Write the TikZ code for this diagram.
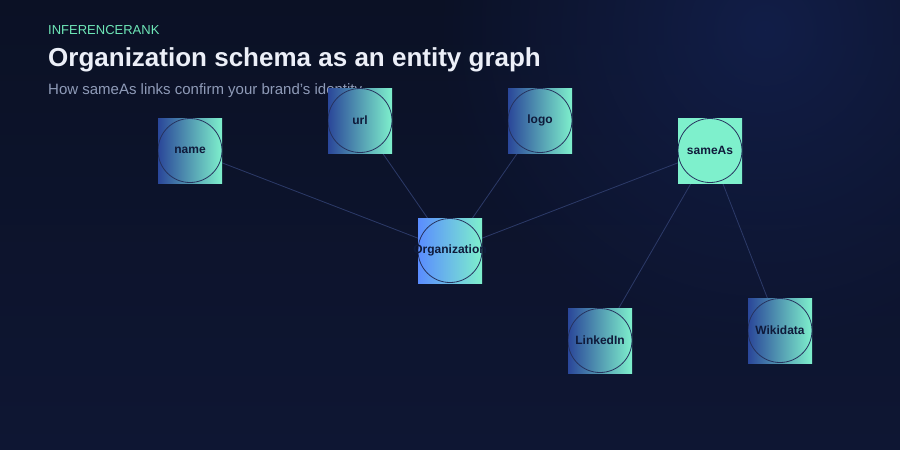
\documentclass[tikz,border=0pt]{standalone}
\usepackage{fontspec}
\setmainfont{Liberation Sans}
\usetikzlibrary{positioning,backgrounds,fadings}

\definecolor{bgtop}{HTML}{0B1125}
\definecolor{bgbottom}{HTML}{0E1633}
\definecolor{glow}{HTML}{121E48}
\definecolor{mint}{HTML}{7EF0CC}
\definecolor{deepblue}{HTML}{2A4699}
\definecolor{skyblue}{HTML}{5A8CFF}
\definecolor{ring}{HTML}{26335F}
\definecolor{edgecol}{HTML}{2C3A68}
\definecolor{labelcol}{HTML}{0F1A3A}
\definecolor{brandcol}{HTML}{6EE7B7}
\definecolor{titlecol}{HTML}{ECEFF8}
\definecolor{subcol}{HTML}{8F9BB8}

\tikzfading[name=glowfade,inner color=transparent!0,outer color=transparent!100]

\begin{document}
\begin{tikzpicture}[x=1pt,y=-1pt]
		\tikzstyle{entity}=[rectangle,minimum width=64pt,minimum height=65pt,inner sep=0pt,
			left color=deepblue,right color=mint,text=labelcol,font=\bfseries\fontsize{12}{14}\selectfont,
			execute at begin node={\hbox to 0pt\bgroup\hss},execute at end node={\hss\egroup},
			path picture={\draw[ring,line width=0.8pt] (path picture bounding box.center) circle (32pt);}]
		\tikzstyle{hub}=[entity,left color=skyblue,right color=mint]
		\tikzstyle{same}=[entity,left color=mint,right color=mint]
		\tikzstyle{link}=[edgecol,line width=0.8pt]
		\useasboundingbox (0,0) rectangle (900,450);

		% background
		\begin{scope}[on background layer]
		\shade[top color=bgtop,bottom color=bgbottom] (0,0) rectangle (900,450);
		\begin{scope}
		\clip (0,0) rectangle (900,450);
		\fill[glow,path fading=glowfade] (765,30) circle (330pt);
		\end{scope}
		\end{scope}

		% heading
		\node[anchor=base west,inner sep=0pt,text=brandcol,font=\fontsize{13}{15}\selectfont] (brand) at (48,34) {INFERENCERANK};
		\node[anchor=base west,inner sep=0pt,text=titlecol,font=\bfseries\fontsize{26}{30}\selectfont] (title) at (48,66) {Organization schema as an entity graph};
		\node[anchor=base west,inner sep=0pt,text=subcol,font=\fontsize{15}{18}\selectfont] (subtitle) at (48,94) {How sameAs links confirm your brand's identity};

		% entities
		\node[hub] (org) at (450,250.5) {Organization};
		\node[entity] (name) at (190,150.5) {name};
		\node[entity] (url) at (360,120.5) {url};
		\node[entity] (logo) at (540,120.5) {logo};
		\node[same] (sameas) at (710,150.5) {sameAs};
		\node[entity] (linkedin) at (600,340.5) {LinkedIn};
		\node[entity] (wikidata) at (780,330.5) {Wikidata};

		% links
		\begin{scope}[on background layer]
		\draw[link] (name.center) -- (org.center);
		\draw[link] (url.center) -- (org.center);
		\draw[link] (logo.center) -- (org.center);
		\draw[link] (sameas.center) -- (org.center);
		\draw[link] (sameas.center) -- (linkedin.center);
		\draw[link] (sameas.center) -- (wikidata.center);
		\end{scope}
\end{tikzpicture}
\end{document}
